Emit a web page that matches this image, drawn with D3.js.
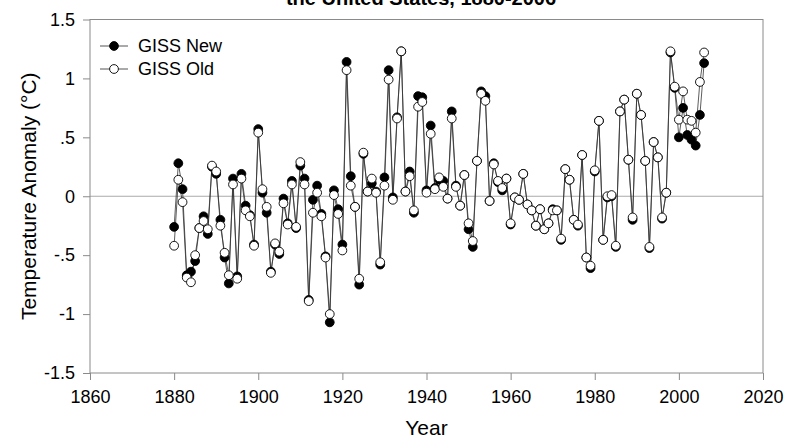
<!DOCTYPE html>
<html>
<head>
<meta charset="utf-8">
<script src="https://cdn.jsdelivr.net/npm/d3@7"></script>
<style>
body { margin: 0; background: #fff; }
text { font-family: "Liberation Sans", Arial, sans-serif; }
</style>
</head>
<body>
<div id="chart"></div>
<script>
var w = 788,
	h = 441,
	margin = { top: 19.5, right: 25, bottom: 68, left: 90 };

var firstYear = 1880;

var gissNew = [
	-0.26, 0.28, 0.06, -0.67, -0.64, -0.55, -0.27, -0.17, -0.32, 0.25,
	0.19, -0.20, -0.52, -0.74, 0.15, -0.68, 0.19, -0.08, -0.16, -0.41,
	0.57, 0.03, -0.14, -0.64, -0.41, -0.49, -0.02, -0.23, 0.13, -0.27,
	0.26, 0.15, -0.88, -0.03, 0.09, -0.15, -0.51, -1.07, 0.05, -0.11,
	-0.41, 1.14, 0.17, -0.09, -0.75, 0.36, 0.04, 0.11, 0.04, -0.58,
	0.16, 1.07, -0.01, 0.67, 1.23, 0.04, 0.21, -0.14, 0.85, 0.84,
	0.05, 0.60, 0.07, 0.14, 0.13, -0.02, 0.72, 0.09, -0.08, 0.18,
	-0.28, -0.43, 0.30, 0.89, 0.85, -0.04, 0.28, 0.12, 0.05, 0.15,
	-0.24, -0.01, -0.03, 0.19, -0.07, -0.12, -0.25, -0.11, -0.28, -0.23,
	-0.11, -0.12, -0.37, 0.23, 0.14, -0.20, -0.25, 0.35, -0.52, -0.61,
	0.21, 0.64, -0.37, -0.01, 0.00, -0.43, 0.72, 0.82, 0.31, -0.20,
	0.87, 0.69, 0.30, -0.44, 0.46, 0.33, -0.19, 0.03, 1.22, 0.92,
	0.50, 0.75, 0.52, 0.48, 0.43, 0.69, 1.13
];

var gissOld = [
	-0.42, 0.14, -0.05, -0.69, -0.73, -0.50, -0.27, -0.21, -0.28, 0.26,
	0.21, -0.25, -0.48, -0.67, 0.10, -0.70, 0.15, -0.12, -0.17, -0.42,
	0.54, 0.06, -0.09, -0.65, -0.40, -0.47, -0.06, -0.24, 0.10, -0.26,
	0.29, 0.10, -0.89, -0.14, 0.03, -0.17, -0.52, -1.00, 0.01, -0.15,
	-0.46, 1.07, 0.09, -0.09, -0.70, 0.37, 0.04, 0.15, 0.03, -0.56,
	0.09, 0.99, -0.03, 0.66, 1.23, 0.04, 0.17, -0.12, 0.76, 0.80,
	0.03, 0.53, 0.06, 0.16, 0.08, -0.02, 0.66, 0.08, -0.08, 0.18,
	-0.23, -0.38, 0.30, 0.87, 0.81, -0.04, 0.27, 0.13, 0.07, 0.15,
	-0.23, -0.01, -0.03, 0.19, -0.07, -0.12, -0.25, -0.11, -0.28, -0.23,
	-0.12, -0.12, -0.36, 0.23, 0.14, -0.20, -0.24, 0.35, -0.52, -0.59,
	0.22, 0.64, -0.37, 0.00, 0.01, -0.42, 0.72, 0.82, 0.31, -0.18,
	0.87, 0.69, 0.30, -0.43, 0.46, 0.33, -0.18, 0.03, 1.23, 0.93,
	0.65, 0.89, 0.65, 0.64, 0.54, 0.97, 1.22
];

var xTicks = [1860, 1880, 1900, 1920, 1940, 1960, 1980, 2000, 2020];
var yTicks = [-1.5, -1, -0.5, 0, 0.5, 1, 1.5];
var yTickLabels = ['-1.5', '-1', '-.5', '0', '.5', '1', '1.5'];

var series = [
	{ name: 'GISS New', values: gissNew, fill: '#000' },
	{ name: 'GISS Old', values: gissOld, fill: '#fff' }
];

var svg = d3.select('#chart').append('svg')
	.attr('width', w)
	.attr('height', h);

var x = d3.scaleLinear().domain([1860, 2020]).range([margin.left, w - margin.right]);
var y = d3.scaleLinear().domain([-1.5, 1.5]).range([h - margin.bottom, margin.top]);

var axisColor = '#8a8a8a';

// title, only its lower line shows in the frame
svg.append('text')
	.attr('x', 421)
	.attr('y', 5)
	.attr('text-anchor', 'middle')
	.style('font-size', '20px')
	.style('font-weight', 'bold')
	.text('the United States, 1880-2006');

// zero line
svg.append('line')
	.attr('x1', x(1860)).attr('x2', x(2020))
	.attr('y1', y(0)).attr('y2', y(0))
	.style('stroke', '#aaa')
	.style('stroke-width', 1);

// frame
svg.append('rect')
	.attr('x', x(1860)).attr('y', y(1.5))
	.attr('width', x(2020) - x(1860))
	.attr('height', y(-1.5) - y(1.5))
	.style('fill', 'none')
	.style('stroke', axisColor)
	.style('stroke-width', 1);

// x axis
var xAxis = svg.append('g')
	.attr('transform', 'translate(0,' + y(-1.5) + ')');
xAxis.call(d3.axisBottom(x).tickValues(d3.range(1860, 2021, 5)).tickSize(4).tickFormat(''));
xAxis.call(d3.axisBottom(x).tickValues(xTicks).tickSize(7).tickPadding(10).tickFormat(d3.format('d')));
xAxis.selectAll('.domain').remove();
xAxis.selectAll('line').style('stroke', axisColor);
xAxis.selectAll('text').style('font-size', '18px').style('fill', '#000').attr('font-family', null);

// y axis
var yAxis = svg.append('g')
	.attr('transform', 'translate(' + x(1860) + ',0)');
yAxis.call(d3.axisLeft(y).tickValues(d3.range(-15, 16).map(function(d) { return d / 10 })).tickSize(4).tickFormat(''));
yAxis.call(d3.axisLeft(y).tickValues(yTicks).tickSize(7).tickPadding(8)
	.tickFormat(function(d, i) { return yTickLabels[i] }));
yAxis.selectAll('.domain').remove();
yAxis.selectAll('line').style('stroke', axisColor);
yAxis.selectAll('text').style('font-size', '18px').style('fill', '#000').attr('font-family', null);

// axis titles
svg.append('text')
	.attr('x', (x(1860) + x(2020)) / 2)
	.attr('y', 435)
	.attr('text-anchor', 'middle')
	.style('font-size', '21px')
	.text('Year');

svg.append('text')
	.attr('transform', 'translate(36,' + y(0) + ') rotate(-90)')
	.attr('text-anchor', 'middle')
	.style('font-size', '21px')
	.text('Temperature Anomaly (°C)');

// series
var line = d3.line()
	.x(function(d, i) { return x(firstYear + i) })
	.y(function(d) { return y(d) });

series.forEach(function(s) {
	svg.append('path')
		.datum(s.values)
		.attr('d', line)
		.style('fill', 'none')
		.style('stroke', '#333')
		.style('stroke-width', 0.8);
});

series.forEach(function(s) {
	svg.selectAll('circle.s' + s.name.replace(' ', ''))
		.data(s.values)
		.enter().append('circle')
		.attr('class', 's' + s.name.replace(' ', ''))
		.attr('cx', function(d, i) { return x(firstYear + i) })
		.attr('cy', function(d) { return y(d) })
		.attr('r', 4.4)
		.style('fill', s.fill)
		.style('stroke', '#000')
		.style('stroke-width', 0.9);
});

// legend
var legend = svg.append('g')
	.selectAll('g')
	.data(series)
	.enter().append('g')
	.attr('transform', function(d, i) { return 'translate(100,' + (46 + i * 23) + ')' });

legend.append('line')
	.attr('x1', 0).attr('x2', 28)
	.style('stroke', '#555')
	.style('stroke-width', 1);
legend.append('circle')
	.attr('cx', 14)
	.attr('r', 4.4)
	.style('fill', function(d) { return d.fill })
	.style('stroke', '#000')
	.style('stroke-width', 0.9);
legend.append('text')
	.attr('x', 38)
	.attr('y', 6)
	.style('font-size', '18px')
	.text(function(d) { return d.name });
</script>
</body>
</html>
